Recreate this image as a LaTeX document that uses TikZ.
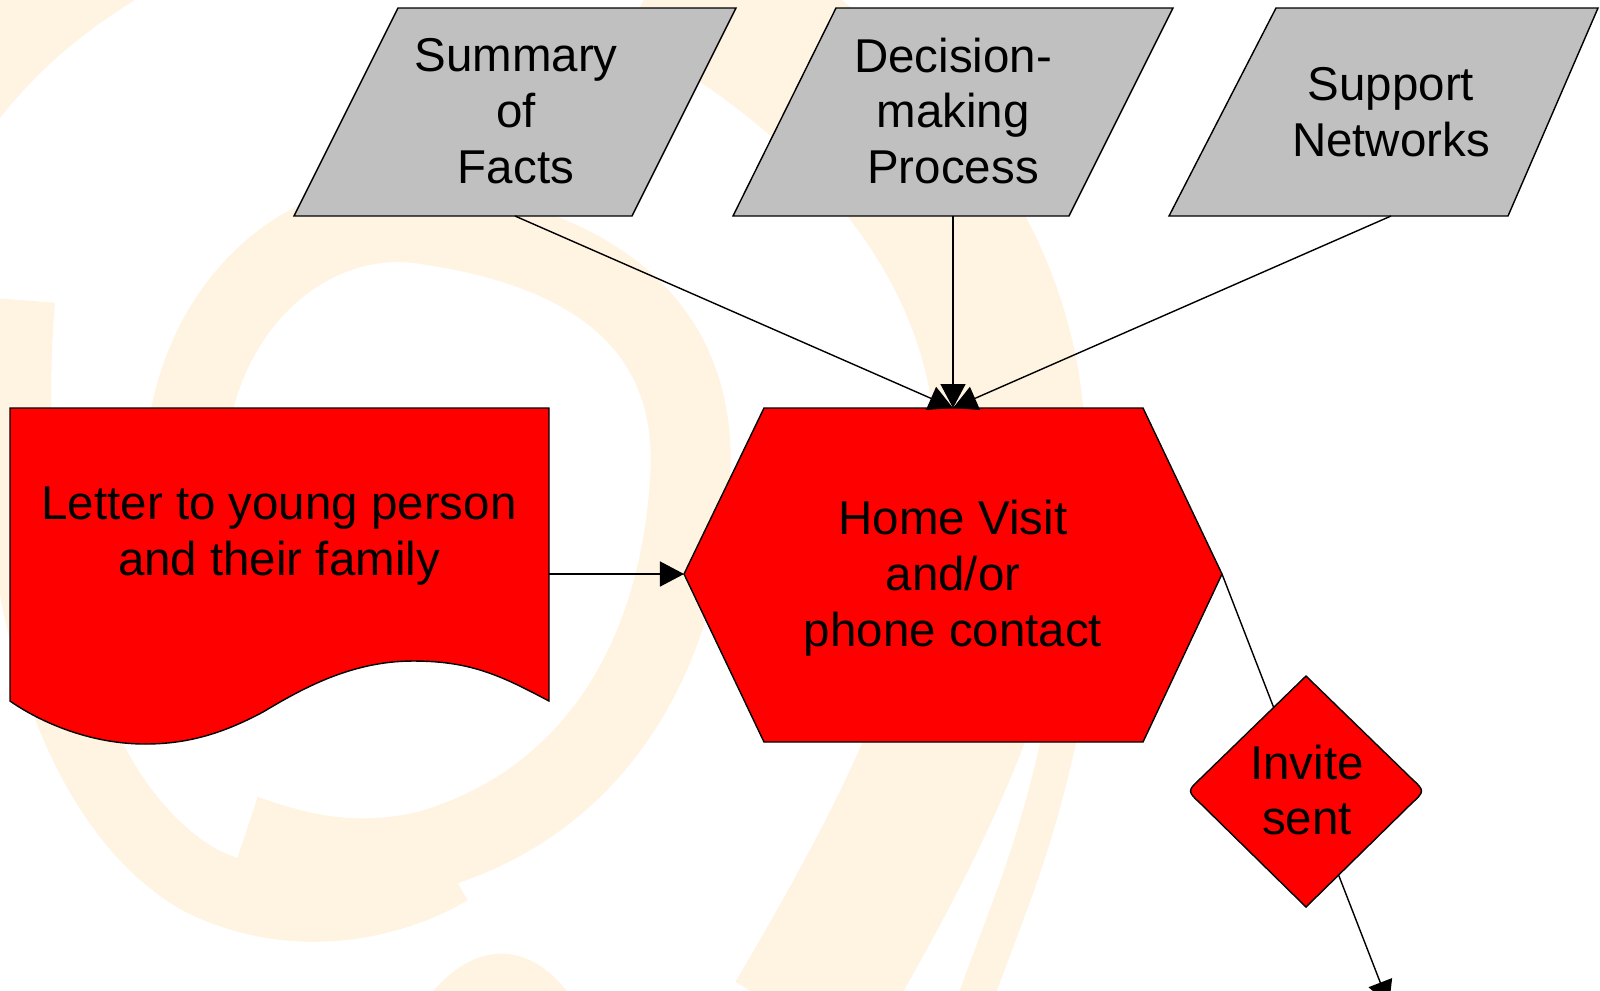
\documentclass[tikz,border=0pt]{standalone}
\usepackage{fontspec}
\setmainfont{Liberation Sans}
\usetikzlibrary{arrows.meta}

\definecolor{swirl}{RGB}{255,243,226}
\definecolor{boxgrey}{RGB}{192,192,192}
\definecolor{boxred}{RGB}{255,0,0}

\tikzset{
    flowline/.style={line width=0.4pt},
    flowarrow/.style={flowline, -{Triangle[length=0.24cm,width=0.25cm]}},
    greybox/.style={fill=boxgrey, draw=black, line width=0.4pt},
    redbox/.style={fill=boxred, draw=black, line width=0.4pt},
    boxtext/.style={align=center, inner sep=0pt, font=\fontsize{13.5}{15.9}\selectfont}
}

\begin{document}
\begin{tikzpicture}[x=0.01cm, y=-0.01cm]
        \useasboundingbox (0,0) rectangle (1600,990);
        \clip (0,0) rectangle (1600,990);

        % background swirl
        \fill [swirl] (0,0) -- (135,0) .. controls (70,40) and (30,80) .. (0,118) -- cycle;
        \draw [swirl, line width=0.8cm] (190,560) .. controls (150,330) and (300,200) .. (430,225)
            .. controls (600,250) and (700,330) .. (690,480)
            .. controls (680,650) and (600,800) .. (430,850)
            .. controls (350,870) and (290,850) .. (245,835);
        \draw [swirl, line width=0.7cm] (20,300) .. controls (0,550) and (60,800) .. (200,880)
            .. controls (300,930) and (400,900) .. (450,870);
        \draw [swirl, line width=1.5cm] (660,-30) .. controls (900,100) and (1010,280) .. (1010,450)
            .. controls (1010,650) and (900,850) .. (800,1020);
        \draw [swirl, line width=0.35cm] (1080,600) .. controls (1060,800) and (1010,900) .. (975,1000);
        \fill [swirl] (430,995) .. controls (470,945) and (525,935) .. (570,995) -- cycle;

        % connector ends
        \coordinate (summary-b) at (515,216);
        \coordinate (decision-b) at (953,216);
        \coordinate (support-b) at (1391,216);
        \coordinate (letter-e) at (549,574);
        \coordinate (home-w) at (684,574);
        \coordinate (home-n) at (953,408);
        \coordinate (home-e) at (1222,574);
        \coordinate (invite-c) at (1306,791);
        \coordinate (next) at (1389,1005);

        % shapes
        \filldraw [greybox] (398,8) -- (736,8) -- (632,216) -- (294,216) -- cycle;
        \filldraw [greybox] (836,8) -- (1173,8) -- (1069,216) -- (733,216) -- cycle;
        \filldraw [greybox] (1276,8) -- (1598,8) -- (1508,216) -- (1169,216) -- cycle;
        \filldraw [redbox] (10,408) -- (549,408) -- (549,701)
            .. controls (500,675) and (470,661) .. (413,661)
            .. controls (350,661) and (300,690) .. (263,712)
            .. controls (220,735) and (185,744) .. (145,744)
            .. controls (90,744) and (40,722) .. (10,701) -- cycle;
        \filldraw [redbox] (764,408) -- (1143,408) -- (1222,574) -- (1143,742)
            -- (764,742) -- (684,574) -- cycle;

        % connectors
        \draw [flowarrow] (summary-b) -- (home-n);
        \draw [flowarrow] (decision-b) -- (home-n);
        \draw [flowarrow] (support-b) -- (home-n);
        \draw [flowarrow] (letter-e) -- (home-w);
        \draw [flowline] (home-e) -- (invite-c);
        \draw [flowarrow] (invite-c) -- (next);

        \filldraw [redbox] (1306,676) -- (1411,778) .. controls (1425,791) .. (1411,804)
            -- (1306,907) -- (1201,804) .. controls (1187,791) .. (1201,778) -- cycle;

        % texts
        \node [boxtext] (summary) at (516,111) {Summary\\of\\Facts};
        \node [boxtext] (decision) at (953,111) {Decision-\\making\\Process};
        \node [boxtext] (support) at (1391,112) {Support\\Networks};
        \node [boxtext] (letter) at (279,536) {Letter to young person\\and their family};
        \node [boxtext] (homevisit) at (953,578) {Home Visit\\and/or\\phone contact};
        \node [boxtext] (invite) at (1307,790) {Invite\\sent};
    \end{tikzpicture}
\end{document}
